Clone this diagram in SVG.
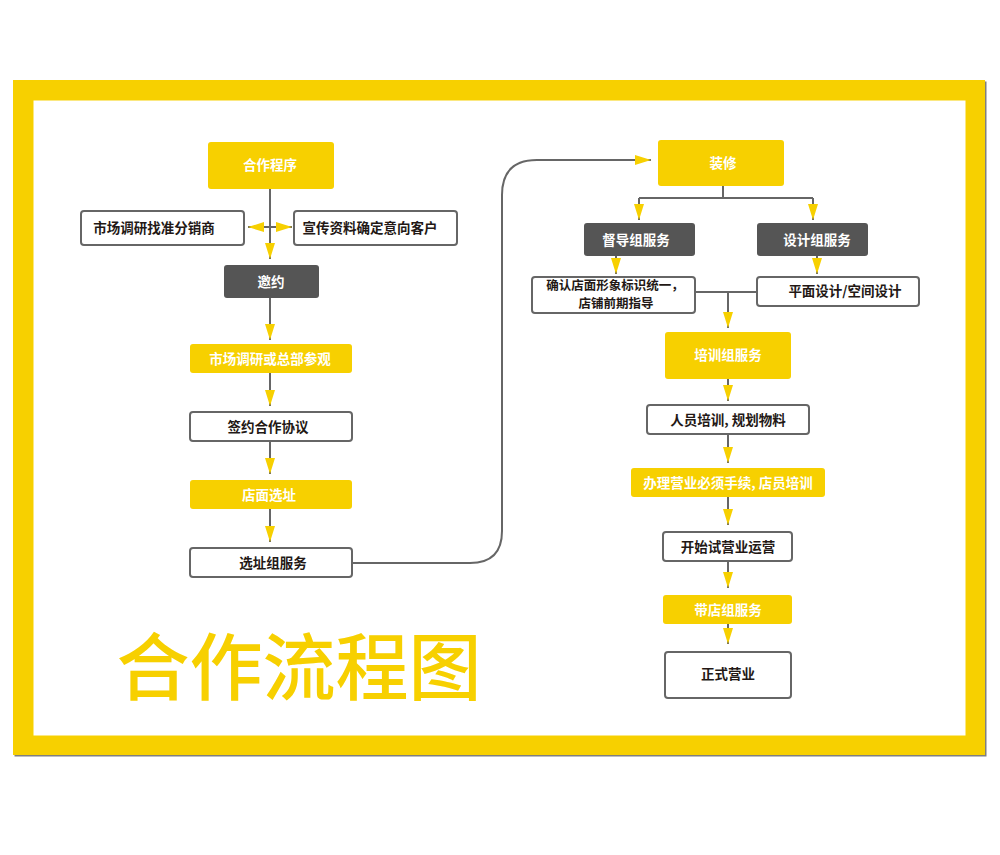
<svg xmlns="http://www.w3.org/2000/svg" width="1000" height="855" viewBox="0 0 1000 855">
<defs>
<marker id="ah" viewBox="0 0 16 10" markerWidth="16" markerHeight="10" refX="16" refY="5" orient="auto" markerUnits="userSpaceOnUse">
<path d="M0,0 L16,5 L0,10 z" fill="#F7D000"/>
</marker>
<style>
.y{fill:#F7D000}
.d{fill:#555555}
.w{fill:#ffffff;stroke:#666666;stroke-width:2}
text{font-family:"Noto Sans CJK SC","Noto Sans",sans-serif;font-weight:bold;font-size:13.5px;text-anchor:middle}
.tw{fill:#ffffff}
.tk{fill:#231815}
.sm{font-size:12.5px}
.c{fill:none;stroke:#666666;stroke-width:2}
.c2{fill:none;stroke:#666666;stroke-width:2;marker-end:url(#ah)}
</style>
</defs>
<rect x="0" y="0" width="1000" height="855" fill="#ffffff"/>
<g id="frame">
<rect x="14.5" y="81.5" width="972" height="675" fill="#7f7f7f"/>
<rect x="13" y="80" width="972" height="675" fill="#F7D000"/>
<rect x="33.5" y="100.5" width="932" height="635" fill="#ffffff"/>
</g>
<g id="connectors">
<line class="c2" x1="270" y1="189" x2="270" y2="259"/>
<line class="c2" x1="270" y1="227" x2="248" y2="227"/>
<line class="c2" x1="270" y1="227" x2="292" y2="227"/>
<line class="c2" x1="270" y1="298" x2="270" y2="340"/>
<line class="c2" x1="270" y1="373" x2="270" y2="406"/>
<line class="c2" x1="270" y1="441" x2="270" y2="474"/>
<line class="c2" x1="270" y1="509" x2="270" y2="542"/>
<path class="c2" d="M352,563 L470,563 Q502,563 502,531 L502,195 Q502,160 537,160 L651,160"/>
<path class="c" d="M723,186 L723,198 M639,198 L813,198"/>
<line class="c2" x1="639" y1="198" x2="639" y2="220"/>
<line class="c2" x1="813" y1="198" x2="813" y2="220"/>
<line class="c2" x1="616" y1="256" x2="616" y2="274"/>
<line class="c2" x1="817" y1="256" x2="817" y2="274"/>
<path class="c" d="M695,292 L757,292"/>
<line class="c2" x1="728" y1="292" x2="728" y2="328"/>
<line class="c2" x1="728" y1="379" x2="728" y2="401"/>
<line class="c2" x1="728" y1="434" x2="728" y2="463"/>
<line class="c2" x1="728" y1="497" x2="728" y2="525"/>
<line class="c2" x1="728" y1="561" x2="728" y2="588"/>
<line class="c2" x1="728" y1="623" x2="728" y2="644"/>
</g>
<g id="n1"><rect class="y" x="208" y="142" width="126" height="47" rx="3"/><text class="tw" x="270" y="170">合作程序</text></g>
<g id="n2"><rect class="w" x="81" y="211" width="163" height="34" rx="3"/><text class="tk" x="154" y="232.5">市场调研找准分销商</text></g>
<g id="n3"><rect class="w" x="294" y="211" width="163" height="34" rx="3"/><text class="tk" x="370" y="232.5">宣传资料确定意向客户</text></g>
<g id="n4"><rect class="d" x="224" y="265" width="95" height="33" rx="3"/><text class="tw" x="271" y="286.5">邀约</text></g>
<g id="n5"><rect class="y" x="190" y="344" width="162" height="29" rx="3"/><text class="tw" x="270" y="363.5">市场调研或总部参观</text></g>
<g id="n6"><rect class="w" x="190" y="412" width="162" height="29" rx="3"/><text class="tk" x="268" y="431.5">签约合作协议</text></g>
<g id="n7"><rect class="y" x="190" y="480" width="162" height="29" rx="3"/><text class="tw" x="269" y="499.5">店面选址</text></g>
<g id="n8"><rect class="w" x="190" y="548" width="162" height="29" rx="3"/><text class="tk" x="273" y="567.5">选址组服务</text></g>
<g id="n9"><rect class="y" x="658" y="140" width="126" height="46" rx="3"/><text class="tw" x="723" y="168">装修</text></g>
<g id="n10"><rect class="d" x="584" y="223" width="111" height="33" rx="3"/><text class="tw" x="636" y="244.5">督导组服务</text></g>
<g id="n11"><rect class="d" x="757" y="223" width="111" height="33" rx="3"/><text class="tw" x="817" y="244.5">设计组服务</text></g>
<g id="n12"><rect class="w" x="532" y="277" width="163" height="36" rx="3"/><text class="tk sm" x="615" y="290">确认店面形象标识统一，</text><text class="tk sm" x="616" y="307.5">店铺前期指导</text></g>
<g id="n13"><rect class="w" x="757" y="277" width="162" height="29" rx="3"/><text class="tk" x="845" y="296">平面设计/空间设计</text></g>
<g id="n14"><rect class="y" x="665" y="332" width="126" height="47" rx="3"/><text class="tw" x="728" y="360">培训组服务</text></g>
<g id="n15"><rect class="w" x="647" y="405" width="162" height="29" rx="3"/><text class="tk" x="728" y="424.5">人员培训, 规划物料</text></g>
<g id="n16"><rect class="y" x="631" y="468" width="194" height="29" rx="3"/><text class="tw" x="728" y="487.5">办理营业必须手续, 店员培训</text></g>
<g id="n17"><rect class="w" x="663" y="532" width="129" height="29" rx="3"/><text class="tk" x="728" y="551.5">开始试营业运营</text></g>
<g id="n18"><rect class="y" x="663" y="595" width="129" height="29" rx="3"/><text class="tw" x="728" y="614.5">带店组服务</text></g>
<g id="n19"><rect class="w" x="665" y="652" width="126" height="46" rx="3"/><text class="tk" x="728" y="679">正式营业</text></g>
<text x="299" y="694" style="font-size:73px;font-weight:500;fill:#F7D000">合作流程图</text>
</svg>
